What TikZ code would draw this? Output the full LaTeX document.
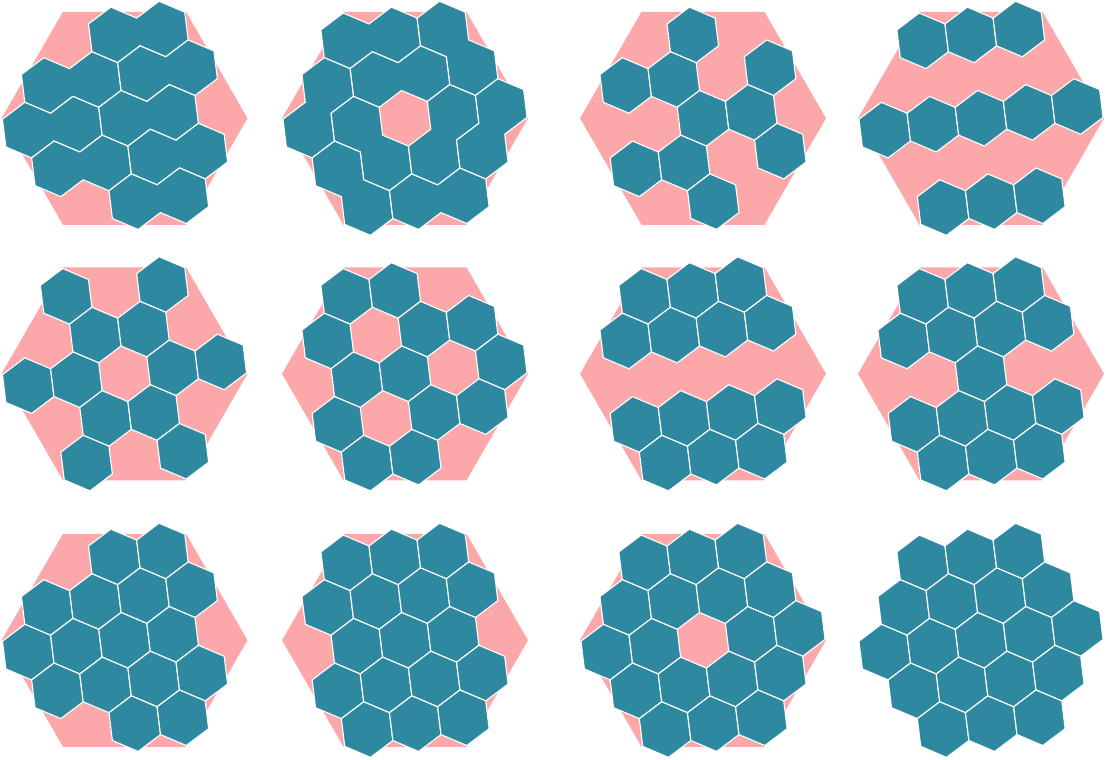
\documentclass[tikz,border=0pt]{standalone}
\usepackage{xcolor}
\definecolor{pinkboard}{HTML}{FCA8AA}
\definecolor{tealcell}{HTML}{2E89A0}

% one hexagonal cell at axial position (q,r)
\newcommand{\cellat}[2]{%
  \begin{scope}[shift={({(#1)*48.5+(#2)*24.25},{(#2)*42})}]
    \draw[hexcell] (30:28) -- (90:28) -- (150:28) -- (210:28) -- (270:28) -- (330:28) -- cycle;
  \end{scope}}
% two joined cells, from (q,r) towards neighbour k
\newcommand{\dimerat}[3]{%
  \begin{scope}[shift={({(#1)*48.5+(#2)*24.25},{(#2)*42})}, rotate=#3*60]
    \draw[hexcell] (30:28) -- (90:28) -- (150:28) -- (210:28) -- (270:28) -- (330:28)
      -- ([shift={(48.5,0)}]270:28) -- ([shift={(48.5,0)}]330:28)
      -- ([shift={(48.5,0)}]30:28) -- ([shift={(48.5,0)}]90:28) -- cycle;
  \end{scope}}
\newcommand{\boardat}{%
  \fill[board] (0:123) -- (60:123) -- (120:123) -- (180:123) -- (240:123) -- (300:123) -- cycle;}

\begin{document}
\begin{tikzpicture}[
  x=0.025cm, y=0.025cm,
  board/.style={fill=pinkboard},
  hexcell/.style={fill=tealcell, draw=white, line width=0.8pt, line join=miter},
  grid/.style={rotate=7}
]
\useasboundingbox (0,0) rectangle (1106,760);

% top row
\begin{scope}[shift={(124.5,641.7)}]
  \boardat
  \begin{scope}[grid]
    \foreach \qa/\ra/\ka in {-1/2/0, -2/1/0, 0/1/0, -2/0/0, 0/0/0, -1/-1/0, 1/-1/0, 1/-2/0}
      {\dimerat{\qa}{\ra}{\ka}}
  \end{scope}
\end{scope}
\begin{scope}[shift={(405,641.7)}]
  \boardat
  \begin{scope}[grid]
    \foreach \qa/\ra/\ka in {-2/2/0, 0/2/5, -1/1/0, -2/1/4, -1/0/5, -1/-1/5, 1/-2/0, 1/0/4, 2/0/4}
      {\dimerat{\qa}{\ra}{\ka}}
  \end{scope}
\end{scope}
\begin{scope}[shift={(703,641.7)}]
  \boardat
  \begin{scope}[grid]
    \foreach \qa/\ra in {-1/2, -2/1, -1/1, 1/1, 0/0, 1/0, -1/-1, 0/-1, 2/-1, 1/-2}
      {\cellat{\qa}{\ra}}
  \end{scope}
\end{scope}
\begin{scope}[shift={(981,641.7)}]
  \boardat
  \begin{scope}[grid]
    \foreach \qa/\ra in {-2/2, -1/2, 0/2, -2/0, -1/0, 0/0, 1/0, 2/0, 0/-2, 1/-2, 2/-2}
      {\cellat{\qa}{\ra}}
  \end{scope}
\end{scope}

% middle row
\begin{scope}[shift={(124.5,386.2)}]
  \boardat
  \begin{scope}[grid]
    \foreach \qa/\ra in {-2/2, 0/2, -1/1, 0/1, -2/0, -1/0, 1/0, 2/0, 0/-1, 1/-1, 0/-2, 2/-2}
      {\cellat{\qa}{\ra}}
  \end{scope}
\end{scope}
\begin{scope}[shift={(405,386.2)}]
  \boardat
  \begin{scope}[grid]
    \foreach \qa/\ra in {-2/2, -1/2, -2/1, 0/1, 1/1, -1/0, 0/0, 2/0, -1/-1, 1/-1, 2/-1, 0/-2, 1/-2}
      {\cellat{\qa}{\ra}}
  \end{scope}
\end{scope}
\begin{scope}[shift={(703,386.2)}]
  \boardat
  \begin{scope}[grid]
    \foreach \qa/\ra in {-2/2, -1/2, 0/2, -2/1, -1/1, 0/1, 1/1, -1/-1, 0/-1, 1/-1, 2/-1, 0/-2, 1/-2, 2/-2}
      {\cellat{\qa}{\ra}}
  \end{scope}
\end{scope}
\begin{scope}[shift={(981,386.2)}]
  \boardat
  \begin{scope}[grid]
    \foreach \qa/\ra in {-2/2, -1/2, 0/2, -2/1, -1/1, 0/1, 1/1, 0/0, -1/-1, 0/-1, 1/-1, 2/-1, 0/-2, 1/-2, 2/-2}
      {\cellat{\qa}{\ra}}
  \end{scope}
\end{scope}

% bottom row
\begin{scope}[shift={(124.5,119.7)}]
  \boardat
  \begin{scope}[grid]
    \foreach \qa/\ra in {-1/2, 0/2, -2/1, -1/1, 0/1, 1/1, -2/0, -1/0, 0/0, 1/0, -1/-1, 0/-1, 1/-1, 2/-1, 1/-2, 2/-2}
      {\cellat{\qa}{\ra}}
  \end{scope}
\end{scope}
\begin{scope}[shift={(405,119.7)}]
  \boardat
  \begin{scope}[grid]
    \foreach \qa/\ra in {-2/2, -1/2, 0/2, -2/1, -1/1, 0/1, 1/1, -1/0, 0/0, 1/0, -1/-1, 0/-1, 1/-1, 2/-1, 0/-2, 1/-2, 2/-2}
      {\cellat{\qa}{\ra}}
  \end{scope}
\end{scope}
\begin{scope}[shift={(703,119.7)}]
  \boardat
  \begin{scope}[grid]
    \foreach \qa/\ra in {-2/2, -1/2, 0/2, -2/1, -1/1, 0/1, 1/1, -2/0, -1/0, 1/0, 2/0, -1/-1, 0/-1, 1/-1, 2/-1, 0/-2, 1/-2, 2/-2}
      {\cellat{\qa}{\ra}}
  \end{scope}
\end{scope}
\begin{scope}[shift={(981,119.7)}]
  \begin{scope}[grid]
    \foreach \qa/\ra in {-2/2, -1/2, 0/2, -2/1, -1/1, 0/1, 1/1, -2/0, -1/0, 0/0, 1/0, 2/0, -1/-1, 0/-1, 1/-1, 2/-1, 0/-2, 1/-2, 2/-2}
      {\cellat{\qa}{\ra}}
  \end{scope}
\end{scope}
\end{tikzpicture}
\end{document}
